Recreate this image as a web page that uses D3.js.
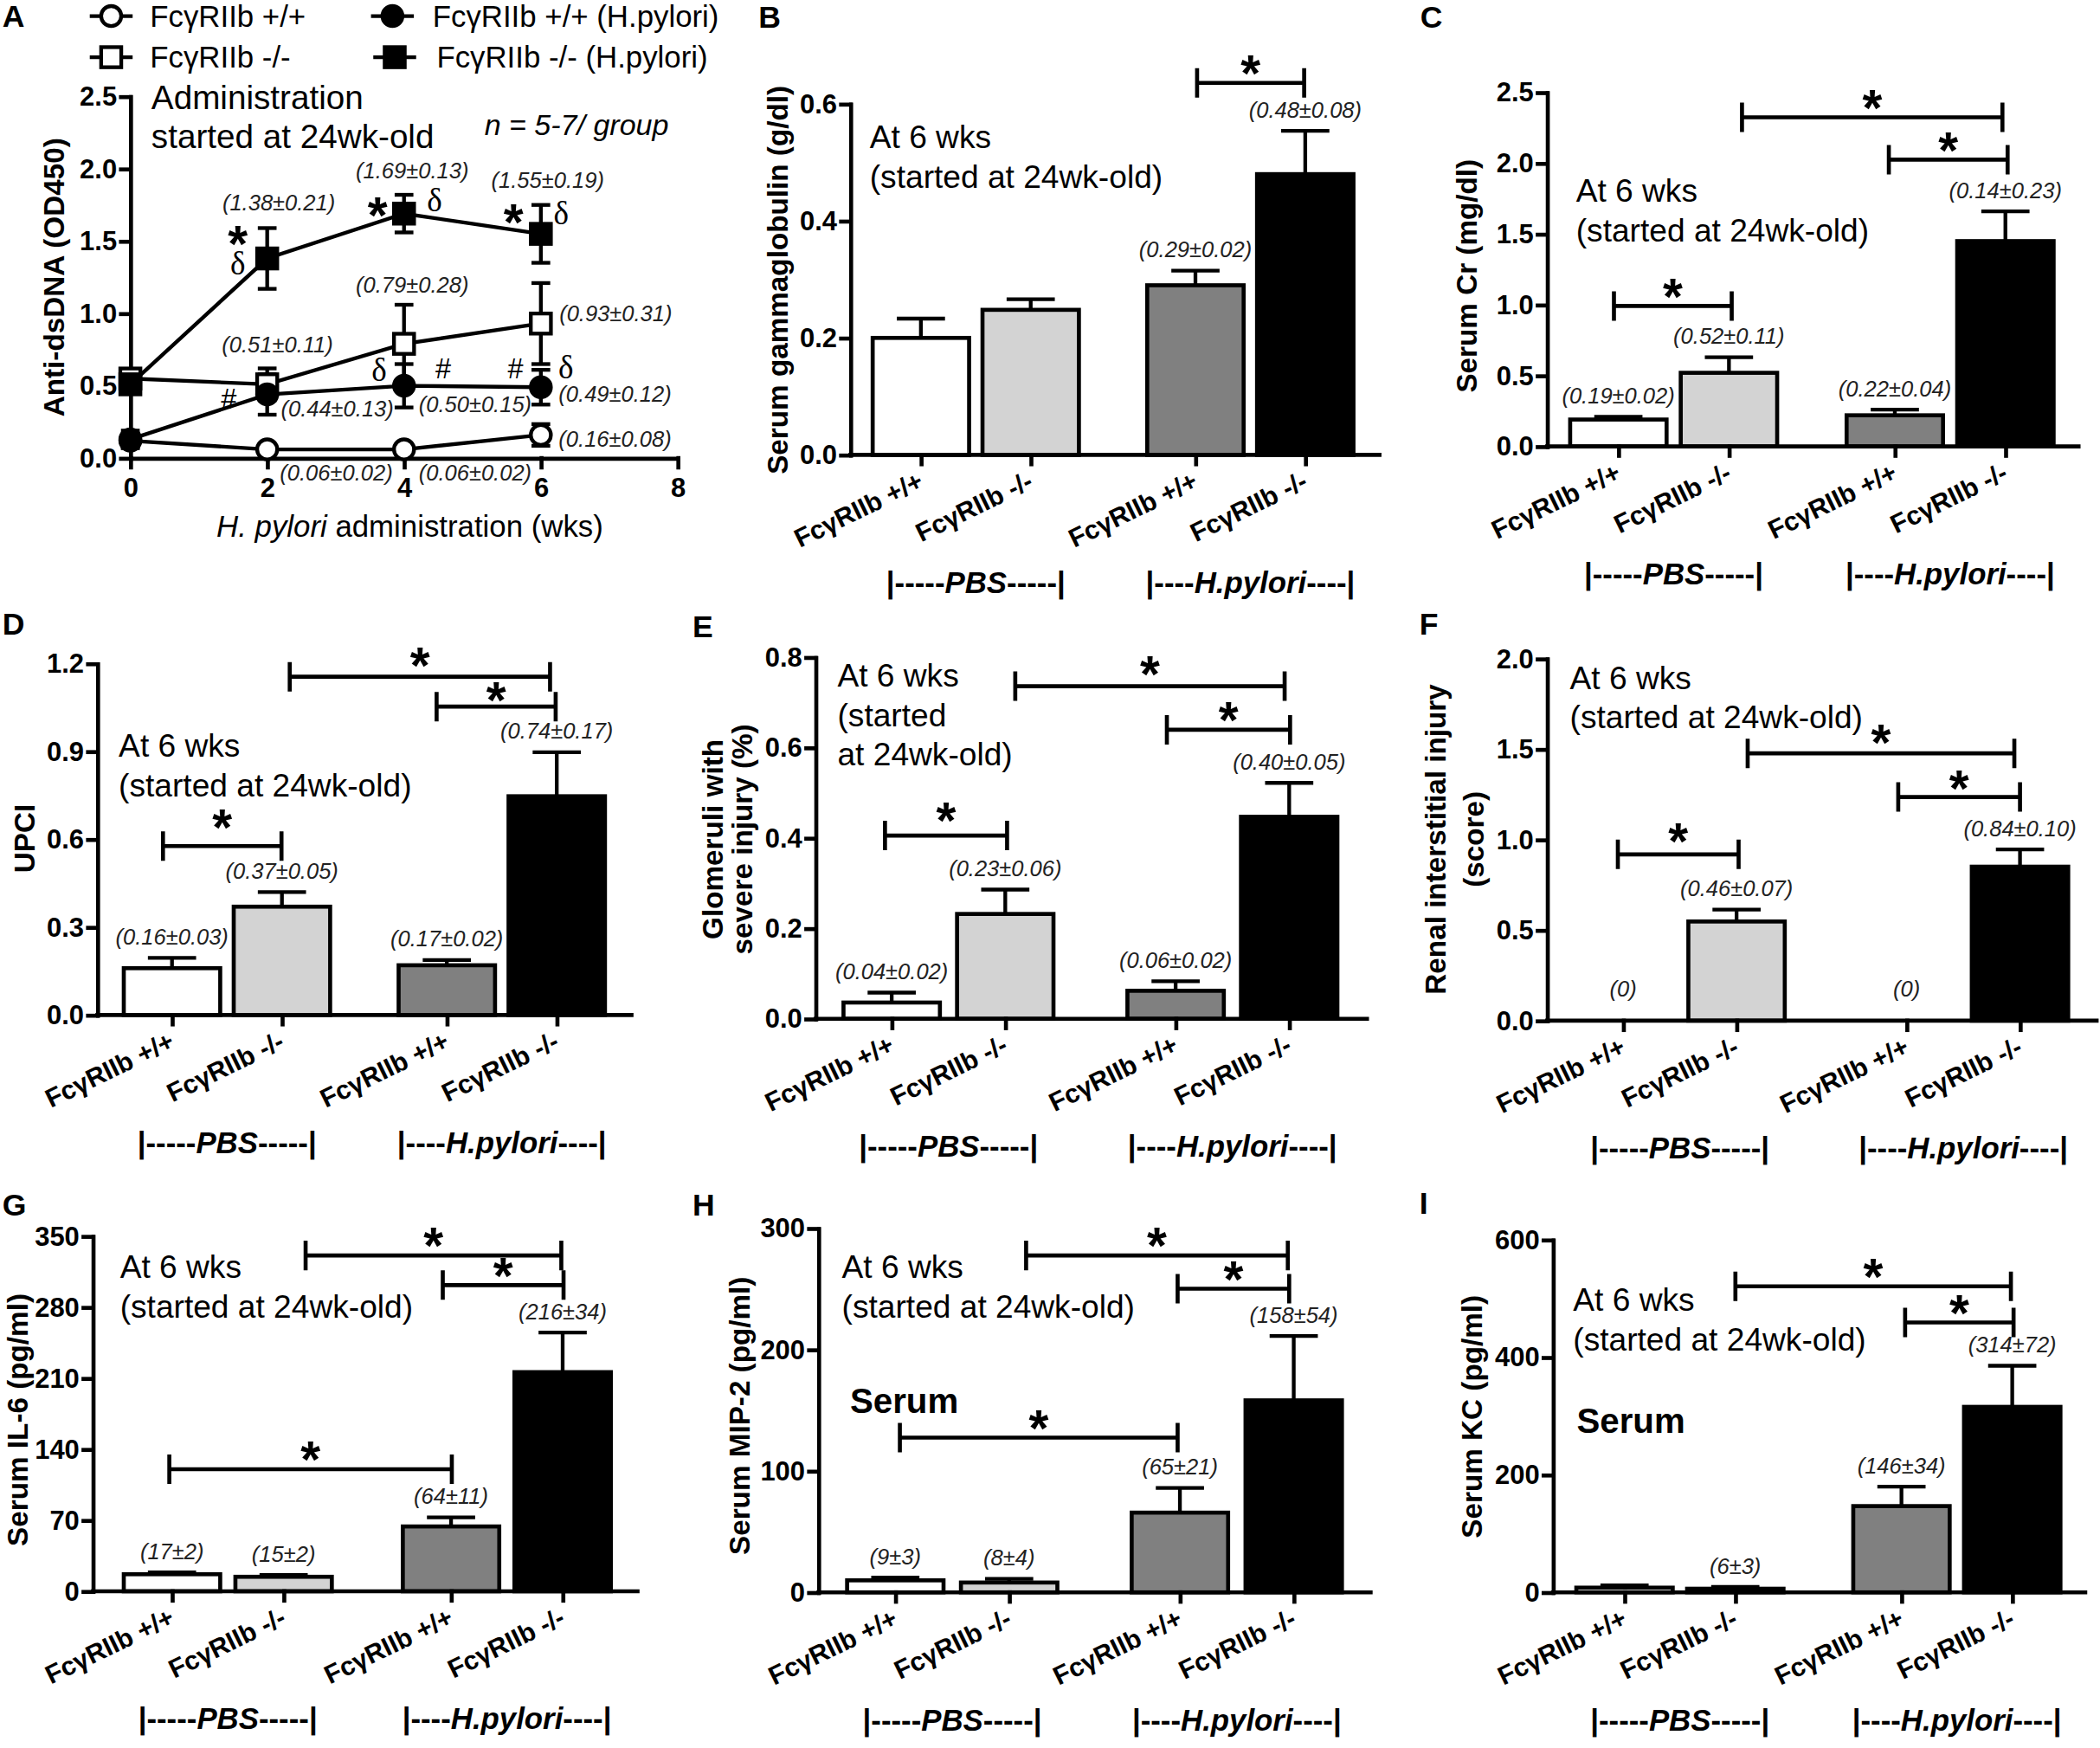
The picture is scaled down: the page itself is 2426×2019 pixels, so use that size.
<!DOCTYPE html>
<html><head><meta charset="utf-8">
<script src="https://cdn.jsdelivr.net/npm/d3@7/dist/d3.min.js"></script>
<style>body{margin:0;background:#fff}svg{display:block}</style>
</head><body>
<svg id="fig" width="2426" height="2019" viewBox="0 0 1568 1305"></svg>
<script>
// ================= DATA =================
// Panel A: anti-dsDNA time course
const weeks = [0, 2, 4, 6];
const wtPBS = [0.12, 0.06, 0.06, 0.16];
const wtPBSErr = [0.05, 0.02, 0.02, 0.075];
const koPBS = [0.55, 0.51, 0.79, 0.93];
const koPBSErr = [0.03, 0.11, 0.27, 0.28];
const wtHp = [0.13, 0.44, 0.50, 0.49];
const wtHpErr = [0.06, 0.14, 0.15, 0.12];
const koHp = [0.51, 1.38, 1.69, 1.55];
const koHpErr = [0.03, 0.21, 0.13, 0.20];
const seriesNames = ["FcγRIIb +/+", "FcγRIIb -/-", "FcγRIIb +/+ (H.pylori)", "FcγRIIb -/- (H.pylori)"];
const aYTicks = [0, 0.5, 1.0, 1.5, 2.0, 2.5];
const aXTicks = [0, 2, 4, 6, 8];
// annotations of panel A: [text, week, value, anchor, kind]
const aNotes = [
  ["(1.38±0.21)", 2.17, 1.713, "middle", "val"],
  ["(1.69±0.13)", 4.12, 1.935, "middle", "val"],
  ["(1.55±0.19)", 6.10, 1.870, "middle", "val"],
  ["(0.79±0.28)", 4.12, 1.141, "middle", "val"],
  ["(0.51±0.11)", 2.15, 0.733, "middle", "val"],
  ["(0.93±0.31)", 6.27, 0.944, "start", "val"],
  ["(0.44±0.13)", 2.20, 0.289, "start", "val"],
  ["(0.50±0.15)", 5.04, 0.315, "middle", "val"],
  ["(0.49±0.12)", 6.26, 0.389, "start", "val"],
  ["(0.16±0.08)", 6.26, 0.079, "start", "val"],
  ["(0.06±0.02)", 3.01, -0.157, "middle", "val"],
  ["(0.06±0.02)", 5.04, -0.157, "middle", "val"],
  ["*", 1.57, 1.565, "middle", "star"],
  ["δ", 1.57, 1.35, "middle", "delta"],
  ["*", 3.615, 1.759, "middle", "star"],
  ["δ", 4.447, 1.787, "middle", "delta"],
  ["*", 5.60, 1.713, "middle", "star"],
  ["δ", 6.297, 1.694, "middle", "delta"],
  ["#", 1.437, 0.412, "middle", "hash"],
  ["δ", 3.635, 0.611, "middle", "delta"],
  ["#", 4.574, 0.620, "middle", "hash"],
  ["#", 5.631, 0.620, "middle", "hash"],
  ["δ", 6.365, 0.634, "middle", "delta"]
];

// Bar panels
const groups = ["FcγRIIb +/+", "FcγRIIb -/-", "FcγRIIb +/+", "FcγRIIb -/-"];
const groupSlots = [0, 1, 2.5, 3.5];
const treatments = ["PBS", "H.pylori"];
const barFills = ["#ffffff", "#d3d3d3", "#808080", "#000000"];

const gammaMean = [0.20, 0.248, 0.29, 0.48];
const gammaErr = [0.033, 0.018, 0.025, 0.074];
const gammaLabels = [null, null, "(0.29±0.02)", "(0.48±0.08)"];
const gammaBrackets = [[2.515, 3.49, 0.636]];
const gammaTicks = [0, 0.2, 0.4, 0.6];

const crMean = [0.19, 0.52, 0.22, 1.45];
const crErr = [0.02, 0.11, 0.04, 0.21];
const crLabels = ["(0.19±0.02)", "(0.52±0.11)", "(0.22±0.04)", "(0.14±0.23)"];
const crBrackets = [[-0.04, 1.025, 0.992], [2.446, 3.52, 2.025], [1.118, 3.473, 2.324]];
const crTicks = [0, 0.5, 1.0, 1.5, 2.0, 2.5];

const upciMean = [0.16, 0.37, 0.17, 0.747];
const upciErr = [0.035, 0.05, 0.018, 0.15];
const upciLabels = ["(0.16±0.03)", "(0.37±0.05)", "(0.17±0.02)", "(0.74±0.17)"];
const upciBrackets = [[-0.082, 0.996, 0.577], [2.407, 3.49, 1.053], [1.071, 3.439, 1.155]];
const upciTicks = [0, 0.3, 0.6, 0.9, 1.2];

const gloMean = [0.036, 0.232, 0.062, 0.447];
const gloErr = [0.022, 0.054, 0.021, 0.075];
const gloLabels = ["(0.04±0.02)", "(0.23±0.06)", "(0.06±0.02)", "(0.40±0.05)"];
const gloBrackets = [[-0.059, 1.016, 0.4055], [2.423, 3.508, 0.6396], [1.088, 3.46, 0.736]];
const gloTicks = [0, 0.2, 0.4, 0.6, 0.8];

const renalMean = [0, 0.548, 0, 0.851];
const renalErr = [0, 0.066, 0, 0.095];
const renalLabels = ["(0)", "(0.46±0.07)", "(0)", "(0.84±0.10)"];
const renalBrackets = [[-0.047, 1.018, 0.919], [2.426, 3.50, 1.236], [1.098, 3.45, 1.477]];
const renalTicks = [0, 0.5, 1.0, 1.5, 2.0];

const il6Mean = [16.8, 14.3, 63.9, 216];
const il6Err = [1.8, 1.8, 9, 39];
const il6Labels = ["(17±2)", "(15±2)", "(64±11)", "(216±34)"];
const il6Brackets = [[-0.024, 2.507, 120.3], [2.426, 3.508, 301.8], [1.197, 3.488, 331]];
const il6Ticks = [0, 70, 140, 210, 280, 350];

const mipMean = [9.9, 8.1, 65.7, 158.2];
const mipErr = [2.2, 3, 20.3, 53];
const mipLabels = ["(9±3)", "(8±4)", "(65±21)", "(158±54)"];
const mipBrackets = [[0.04, 2.48, 127.5], [2.48, 3.46, 250.2], [1.149, 3.448, 277.6]];
const mipTicks = [0, 100, 200, 300];

const kcMean = [8, 6.2, 146.8, 315.7];
const kcErr = [4, 3, 33, 70];
const kcLabels = [null, "(6±3)", "(146±34)", "(314±72)"];
const kcBrackets = [[1.001, 3.488, 520.9], [2.533, 3.512, 459.3]];
const kcTicks = [0, 200, 400, 600];

// ================= DRAWING =================
const FONT = "'Liberation Sans', Arial, Helvetica, sans-serif";
const svg = d3.select("#fig").style("font-family", FONT);

function star(g, x, cy) {
  g.append("text").attr("x", x).attr("y", cy + 0.58 * 38).attr("text-anchor", "middle")
    .attr("font-size", 38).attr("font-weight", "bold").text("*");
}

function panelLetter(t, x, y) {
  svg.append("text").attr("x", x).attr("y", y).attr("font-size", 23).attr("font-weight", "bold").text(t);
}

// ---------- Panel A ----------
(function () {
  const g = svg.append("g");
  const x = d3.scaleLinear().domain([0, 8]).range([97.3, 506]);
  const y = d3.scaleLinear().domain([0, 2.5]).range([342, 72]);

  const xa = g.append("g").attr("transform", "translate(0,342)")
    .call(d3.axisBottom(x).tickValues(aXTicks).tickFormat(d3.format("d")).tickSize(7).tickSizeOuter(0).tickPadding(8));
  const ya = g.append("g").attr("transform", "translate(97.3,0)")
    .call(d3.axisLeft(y).tickValues(aYTicks).tickFormat(d3.format(".1f")).tickSize(7).tickSizeOuter(0).tickPadding(3));
  [xa, ya].forEach(a => {
    a.selectAll("path,line").attr("stroke", "#000").attr("stroke-width", 3).attr("stroke-linecap", "square");
    a.selectAll("text").attr("font-size", 20).attr("font-weight", "bold").attr("fill", "#000").style("font-family", FONT);
  });

  const series = [
    { v: wtPBS, e: wtPBSErr, shape: "circle", fill: "#fff" },
    { v: koPBS, e: koPBSErr, shape: "square", fill: "#fff" },
    { v: wtHp, e: wtHpErr, shape: "circle", fill: "#000" },
    { v: koHp, e: koHpErr, shape: "square", fill: "#000" }
  ];
  const line = d3.line().x((d, i) => x(weeks[i])).y(d => y(d));
  function marker(sel, shape, fill, cx, cy) {
    if (shape === "circle") sel.append("circle").attr("cx", cx).attr("cy", cy).attr("r", 7.5)
      .attr("fill", fill).attr("stroke", "#000").attr("stroke-width", 2.8);
    else sel.append("rect").attr("x", cx - 7.5).attr("y", cy - 7.5).attr("width", 15).attr("height", 15)
      .attr("fill", fill).attr("stroke", "#000").attr("stroke-width", 2.8);
  }
  series.forEach(s => {
    g.append("path").attr("d", line(s.v)).attr("fill", "none").attr("stroke", "#000").attr("stroke-width", 2.8);
    s.v.forEach((v, i) => {
      const cx = x(weeks[i]);
      g.append("line").attr("x1", cx).attr("x2", cx).attr("y1", y(v - s.e[i])).attr("y2", y(v + s.e[i]))
        .attr("stroke", "#000").attr("stroke-width", 2.8);
      [v - s.e[i], v + s.e[i]].forEach(t => g.append("line").attr("x1", cx - 7).attr("x2", cx + 7)
        .attr("y1", y(t)).attr("y2", y(t)).attr("stroke", "#000").attr("stroke-width", 2.8));
    });
  });
  series.forEach(s => s.v.forEach((v, i) => marker(g, s.shape, s.fill, x(weeks[i]), y(v))));

  // legend
  const leg = [[83, 12, 112], [83, 42.7, 112], [293, 12, 323], [294.7, 42.7, 326]];
  series.forEach((s, i) => {
    const [cx, cy, tx] = leg[i];
    g.append("line").attr("x1", cx - 16).attr("x2", cx + 16).attr("y1", cy).attr("y2", cy)
      .attr("stroke", "#000").attr("stroke-width", 2.8);
    marker(g, s.shape, s.fill, cx, cy);
    g.append("text").attr("x", tx).attr("y", cy + 8).attr("font-size", 22.5).text(seriesNames[i]);
  });

  // texts
  g.append("text").attr("x", 113).attr("y", 81.4).attr("font-size", 25).text("Administration");
  g.append("text").attr("x", 113).attr("y", 110.7).attr("font-size", 25).text("started at 24wk-old");
  g.append("text").attr("x", 361.7).attr("y", 101).attr("font-size", 22).attr("font-style", "italic").text("n = 5-7/ group");

  const xt = g.append("text").attr("x", 306).attr("y", 401).attr("text-anchor", "middle").attr("font-size", 22.5);
  xt.append("tspan").attr("font-style", "italic").text("H. pylori");
  xt.append("tspan").text(" administration (wks)");
  g.append("text").attr("transform", "translate(40.6,207) rotate(-90)").attr("text-anchor", "middle")
    .attr("dominant-baseline", "central").attr("font-size", 21.5).attr("font-weight", "bold").text("Anti-dsDNA (OD450)");

  aNotes.forEach(([t, wk, v, anchor, kind]) => {
    const px = x(wk), py = y(v);
    if (kind === "val") {
      g.append("text").attr("x", px).attr("y", py).attr("text-anchor", anchor).attr("font-size", 16.5)
        .attr("font-style", "italic").attr("fill", "#222").text(t);
    } else if (kind === "star") {
      star(g, px, py);
    } else if (kind === "delta") {
      g.append("text").attr("x", px).attr("y", py + 0.36 * 24).attr("text-anchor", "middle").attr("font-size", 24)
        .style("font-family", "'Liberation Serif', 'DejaVu Serif', serif").text(t);
    } else {
      g.append("text").attr("x", px).attr("y", py + 0.35 * 21).attr("text-anchor", "middle").attr("font-size", 21).text(t);
    }
  });
  panelLetter("A", 1.7, 20);
})();

// ---------- Bar panels ----------
function barPanel(cfg) {
  const L = cfg.layout;
  const g = svg.append("g");
  const x = d3.scaleLinear().domain([0, 3.5]).range([L.c0, L.c3]);
  const y = d3.scaleLinear().domain([0, cfg.ymax]).range([L.y0, L.yTop]);
  const bw = 72;

  // bars
  cfg.mean.forEach((m, i) => {
    if (m <= 0) return;
    const cx = x(groupSlots[i]);
    if (cfg.err[i] > 0) {
      g.append("line").attr("x1", cx).attr("x2", cx).attr("y1", y(m)).attr("y2", y(m + cfg.err[i]))
        .attr("stroke", "#000").attr("stroke-width", 2.8);
      g.append("line").attr("x1", cx - 18).attr("x2", cx + 18).attr("y1", y(m + cfg.err[i])).attr("y2", y(m + cfg.err[i]))
        .attr("stroke", "#000").attr("stroke-width", 2.8);
    }
    g.append("rect").attr("x", cx - bw / 2).attr("width", bw).attr("y", y(m)).attr("height", y(0) - y(m))
      .attr("fill", barFills[i]).attr("stroke", "#000").attr("stroke-width", 3);
  });

  // axes
  const xa = g.append("g").attr("transform", `translate(0,${L.y0})`)
    .call(d3.axisBottom(x).tickValues(groupSlots).tickFormat("").tickSize(7).tickSizeOuter(0));
  xa.select(".domain").attr("d", `M${L.ax},0H${L.xEnd}`);
  const ya = g.append("g").attr("transform", `translate(${L.ax},0)`)
    .call(d3.axisLeft(y).tickValues(cfg.ticks).tickFormat(cfg.fmt).tickSize(7).tickSizeOuter(0).tickPadding(3));
  [xa, ya].forEach(a => {
    a.selectAll("path,line").attr("stroke", "#000").attr("stroke-width", 3).attr("stroke-linecap", "square");
    a.selectAll("text").attr("font-size", 20).attr("font-weight", "bold").attr("fill", "#000").style("font-family", FONT);
  });

  // category labels
  groups.forEach((t, i) => {
    g.append("text").attr("transform", `translate(${x(groupSlots[i]) + 3},${L.y0 + 24}) rotate(-26)`)
      .attr("text-anchor", "end").attr("font-size", 19.5).attr("font-weight", "bold").text(t);
  });
  // treatment group labels
  [[0.5, treatments[0], "|-----", "-----|"], [3.0, treatments[1], "|----", "----|"]].forEach(([s, t, a, b]) => {
    const tx = g.append("text").attr("x", x(s)).attr("y", L.y0 + 103).attr("text-anchor", "middle")
      .attr("font-size", 22.5).attr("font-weight", "bold");
    tx.append("tspan").text(a);
    tx.append("tspan").attr("font-style", "italic").text(t);
    tx.append("tspan").text(b);
  });

  // value labels
  cfg.labels.forEach((t, i) => {
    if (!t) return;
    const cx = x(groupSlots[i]);
    const yy = cfg.mean[i] > 0 ? y(cfg.mean[i] + cfg.err[i]) - 10 : y(0) - 18;
    g.append("text").attr("x", cx).attr("y", yy).attr("text-anchor", "middle").attr("font-size", 16.5)
      .attr("font-style", "italic").attr("fill", "#222").text(t);
  });

  // significance brackets
  cfg.brackets.forEach(([a, b, v], k) => {
    const x1 = x(a), x2 = x(b), yy = y(v);
    g.append("path").attr("d", `M${x1},${yy - 11}V${yy + 11}M${x1},${yy}H${x2}M${x2},${yy - 11}V${yy + 11}`)
      .attr("fill", "none").attr("stroke", "#000").attr("stroke-width", 3);
    const off = (cfg.starOff && cfg.starOff[k]) || 16;
    star(g, (x1 + x2) / 2, yy - off);
  });

  // notes
  cfg.note.lines.forEach((t, k) => {
    g.append("text").attr("x", cfg.note.x).attr("y", cfg.note.y + k * 29.5).attr("font-size", 24).text(t);
  });
  if (cfg.serum) g.append("text").attr("x", cfg.serum.x).attr("y", cfg.serum.y).attr("font-size", 26)
    .attr("font-weight", "bold").text("Serum");

  // y title
  cfg.ytitle.forEach((t, k) => {
    g.append("text").attr("transform", `translate(${cfg.ytitleX[k]},${cfg.ytitleY}) rotate(-90)`)
      .attr("text-anchor", "middle").attr("dominant-baseline", "central")
      .attr("font-size", 21.5).attr("font-weight", "bold").text(t);
  });
  panelLetter(cfg.letter, cfg.letterPos[0], cfg.letterPos[1]);
}

const f1 = d3.format(".1f"), f0 = d3.format("d");
const note2 = ["At 6 wks", "(started at 24wk-old)"];

barPanel({ letter: "B", letterPos: [566.3, 21], mean: gammaMean, err: gammaErr, labels: gammaLabels, brackets: gammaBrackets,
  ymax: 0.6, ticks: gammaTicks, fmt: f1, ytitle: ["Serum gammaglobulin (g/dl)"], ytitleX: [581], ytitleY: 209,
  layout: { ax: 635, xEnd: 1030, c0: 687.6, c3: 974.6, y0: 339.6, yTop: 77.6 },
  note: { x: 649.4, y: 110.6, lines: note2 } });

barPanel({ letter: "C", letterPos: [1060.5, 21], mean: crMean, err: crErr, labels: crLabels, brackets: crBrackets,
  ymax: 2.5, ticks: crTicks, fmt: f1, ytitle: ["Serum Cr (mg/dl)"], ytitleX: [1095.4], ytitleY: 206,
  layout: { ax: 1155.2, xEnd: 1552, c0: 1208.4, c3: 1497.4, y0: 333.3, yTop: 69 },
  note: { x: 1176.8, y: 150.8, lines: note2 } });

barPanel({ letter: "D", letterPos: [1.7, 474], mean: upciMean, err: upciErr, labels: upciLabels, brackets: upciBrackets,
  ymax: 1.2, ticks: upciTicks, fmt: f1, ytitle: ["UPCI"], ytitleX: [18.6], ytitleY: 626, starOff: [23, 14, 17],
  layout: { ax: 72.7, xEnd: 471.5, c0: 128.4, c3: 415.7, y0: 757.8, yTop: 495.4 },
  note: { x: 88.6, y: 565.2, lines: note2 } });

barPanel({ letter: "E", letterPos: [517.1, 475.5], mean: gloMean, err: gloErr, labels: gloLabels, brackets: gloBrackets,
  ymax: 0.8, ticks: gloTicks, fmt: f1, ytitle: ["Glomeruli with", "severe injury (%)"], ytitleX: [532.3, 554.3], ytitleY: 626.6,
  starOff: [20, 16, 18],
  layout: { ax: 609, xEnd: 1020.7, c0: 665.8, c3: 962.6, y0: 760.6, yTop: 490.7 },
  note: { x: 625.3, y: 512.7, lines: ["At 6 wks", "(started", "at 24wk-old)"] } });

barPanel({ letter: "F", letterPos: [1059.8, 474], mean: renalMean, err: renalErr, labels: renalLabels, brackets: renalBrackets,
  ymax: 2.0, ticks: renalTicks, fmt: f1, ytitle: ["Renal interstitial injury", "(score)"], ytitleX: [1071.8, 1100.7], ytitleY: 626.6,
  starOff: [19, 15, 17],
  layout: { ax: 1155.2, xEnd: 1565.5, c0: 1212, c3: 1508.3, y0: 762, yTop: 491.8 },
  note: { x: 1172.2, y: 514.4, lines: note2 } });

barPanel({ letter: "G", letterPos: [1.7, 907.4], mean: il6Mean, err: il6Err, labels: il6Labels, brackets: il6Brackets,
  ymax: 350, ticks: il6Ticks, fmt: f0, ytitle: ["Serum IL-6 (pg/ml)"], ytitleX: [13.5], ytitleY: 1060,
  layout: { ax: 69.3, xEnd: 476, c0: 128.4, c3: 420.1, y0: 1188, yTop: 922.9 },
  note: { x: 89.6, y: 954.3, lines: note2 } });

barPanel({ letter: "H", letterPos: [517.1, 907.4], mean: mipMean, err: mipErr, labels: mipLabels, brackets: mipBrackets,
  ymax: 300, ticks: mipTicks, fmt: f0, ytitle: ["Serum MIP-2 (pg/ml)"], ytitleX: [552.6], ytitleY: 1057,
  layout: { ax: 611.1, xEnd: 1023.4, c0: 668.5, c3: 966, y0: 1188.8, yTop: 917 },
  note: { x: 628.6, y: 954.3, lines: note2 }, serum: { x: 634.7, y: 1054.9 } });

barPanel({ letter: "I", letterPos: [1059.8, 906], mean: kcMean, err: kcErr, labels: kcLabels, brackets: kcBrackets,
  ymax: 600, ticks: kcTicks, fmt: f0, ytitle: ["Serum KC (pg/ml)"], ytitleX: [1099], ytitleY: 1057.6,
  layout: { ax: 1159.6, xEnd: 1557, c0: 1213, c3: 1502.5, y0: 1188.8, yTop: 925.6 },
  note: { x: 1174.6, y: 978.6, lines: note2 }, serum: { x: 1177.3, y: 1069.8 } });
</script>
</body></html>
